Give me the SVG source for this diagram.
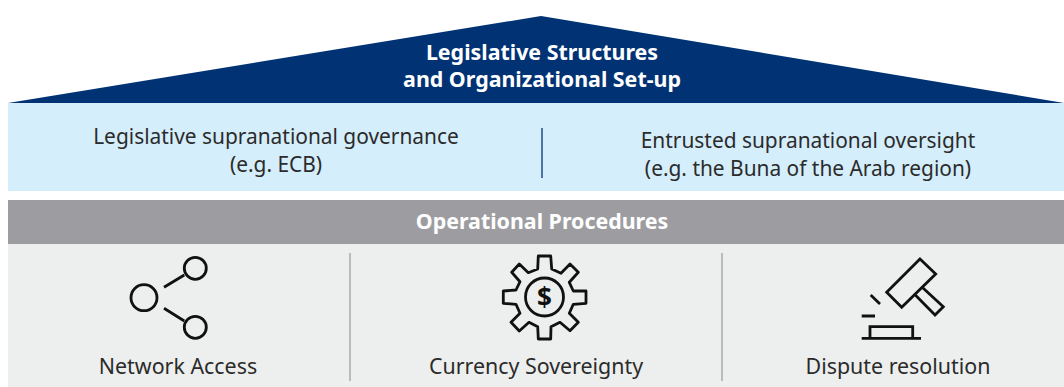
<svg xmlns="http://www.w3.org/2000/svg" width="1064" height="387" viewBox="0 0 1064 387">
<style>
text{font-family:"Noto Sans","Open Sans","Liberation Sans",sans-serif;text-anchor:middle}
.t{font-size:20.9px;fill:#2b2b2b}
.l{font-size:21.4px;fill:#2b2b2b}
.b{font-size:21.4px;font-weight:700;fill:#fff}
.i{fill:none;stroke:#111;stroke-width:2.8}
.d{stroke:#a9abab;stroke-width:1.5}
</style>
<rect width="1064" height="387" fill="#fff"/>
<g id="roof"><polygon points="8,103 541,16 1064,103" fill="#003274"/>
<text class="b" x="542" y="60">Legislative Structures</text><text class="b" x="542" y="87">and Organizational Set-up</text></g>
<g id="governance"><rect x="8" y="103" width="1056" height="88" fill="#d5eefb"/>
<text class="t" x="276" y="144">Legislative supranational governance</text><text class="t" x="276" y="172">(e.g. ECB)</text>
<line x1="542" y1="128" x2="542" y2="178" stroke="#003274" stroke-width="1.3"/>
<text class="t" x="808" y="148">Entrusted supranational oversight</text><text class="t" x="808" y="176">(e.g. the Buna of the Arab region)</text></g>
<g id="operational"><rect x="8" y="200" width="1056" height="44" fill="#9d9da1"/><text class="b" x="542" y="229">Operational Procedures</text></g>
<rect x="8" y="244" width="1056" height="143" fill="#edefee"/>
<g id="connectors"><line class="d" x1="350" y1="253" x2="350" y2="381"/><line class="d" x1="722" y1="253" x2="722" y2="381"/></g>
<g id="network-access"><circle class="i" cx="144" cy="297.7" r="13"/><circle class="i" cx="195.3" cy="268.3" r="11"/><circle class="i" cx="195.3" cy="327.3" r="11"/>
<path class="i" d="M164 287.3L184.3 275M164 308.3L184.3 321"/>
<text class="l" x="178" y="374">Network Access</text></g>
<g id="currency-sovereignty"><polygon class="i" stroke-linejoin="round" points="538.3,256 550.7,256 551.7,269 561,273.3 570,264 578.3,272.3 569.3,282.3 573.3,291 586,291 586,303.3 573.3,304.3 569.3,313.3 578.3,322.3 570,330.7 560,322.3 551,326.7 550.7,339 538.3,339 537.7,326.7 529,322.3 519.3,331 511,322.3 520,313.3 516,304.3 503.3,303.3 503.3,291 516,290 520,281.7 511.7,272.3 519.3,264 528.3,272.7 537.7,269"/>
<circle class="i" cx="544.5" cy="297" r="19"/>
<text x="544.5" y="306.5" style="font-size:26px;font-weight:700;fill:#111">$</text>
<text class="l" x="536" y="374">Currency Sovereignty</text></g>
<g id="dispute-resolution"><polygon class="i" points="920,259 935.7,274 901.7,307.3 886.7,292.3"/><polyline class="i" points="922.7,287.7 943.3,306.7 935,315 915.3,295"/>
<path class="i" d="M870.7,295L880,304M861.7,316H875M861.7,338.3H921M870,338.3V326.7H912.7V338.3"/>
<text class="l" x="898" y="374">Dispute resolution</text></g>
</svg>
